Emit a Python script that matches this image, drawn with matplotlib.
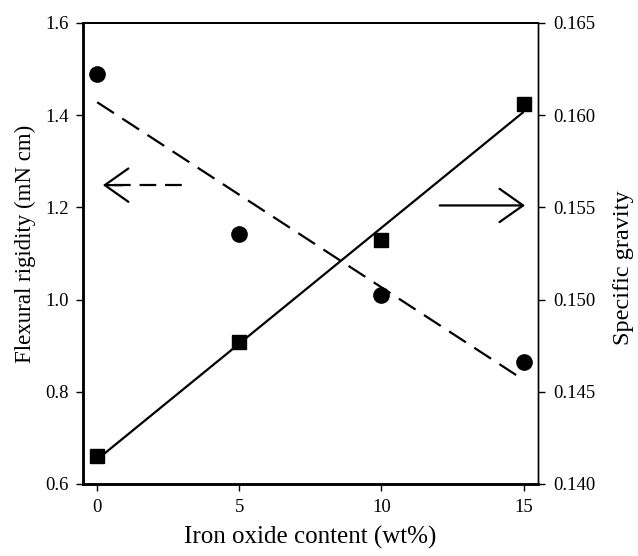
import numpy as np
import matplotlib
matplotlib.use("Agg")
import matplotlib.pyplot as plt

plt.rcParams['font.family'] = ['Liberation Serif', 'DejaVu Serif']

# Iron oxide content (wt%)
iron_oxide = [0, 5, 10, 15]
# Flexural rigidity (mN cm), left axis
flexural_rigidity = [1.49, 1.142, 1.010, 0.865]
# Specific gravity, right axis
specific_gravity = [0.1415, 0.1477, 0.1532, 0.1606]

x_ticks = [0, 5, 10, 15]
left_ticks = [0.6, 0.8, 1.0, 1.2, 1.4, 1.6]
right_ticks = [0.140, 0.145, 0.150, 0.155, 0.160, 0.165]

fig = plt.figure(figsize=(6.38, 5.56), dpi=100)
ax = fig.add_axes([0.130, 0.1295, 0.713, 0.8295])
ax2 = ax.twinx()

xs = np.array(iron_oxide, dtype=float)
xfit = np.array([xs.min(), xs.max()])

# flexural rigidity: circles + dashed linear fit
p1 = np.polyfit(xs, flexural_rigidity, 1)
ax.plot(xfit, np.polyval(p1, xfit), color='black', lw=1.6, dashes=(9, 4.5))
ax.plot(xs, flexural_rigidity, 'o', color='black', ms=11, zorder=5)

# specific gravity: squares + solid linear fit
p2 = np.polyfit(xs, specific_gravity, 1)
ax2.plot(xfit, np.polyval(p2, xfit), color='black', lw=1.6, solid_capstyle='butt')
ax2.plot(xs, specific_gravity, 's', color='black', ms=9.5, zorder=5)

ax.set_xlim(-0.5, 15.5)
ax.set_ylim(0.6, 1.6)
ax2.set_ylim(0.140, 0.165)

ax.set_xticks(x_ticks)
ax.set_xticklabels([str(t) for t in x_ticks])
ax.set_yticks(left_ticks)
ax.set_yticklabels([f"{t:.1f}" for t in left_ticks])
ax2.set_yticks(right_ticks)
ax2.set_yticklabels([f"{t:.3f}" for t in right_ticks])

ax.tick_params(axis='both', direction='out', length=5, width=1, labelsize=13.5, pad=6)
ax.tick_params(axis='y', pad=5)
ax2.tick_params(axis='y', direction='out', length=5, width=1, labelsize=13.5, pad=6)

ax.set_xlabel('Iron oxide content (wt%)', fontsize=18)
ax.xaxis.label.set_va('center')
ax.xaxis.set_label_coords(0.5, -0.115)

ax.set_ylabel('Flexural rigidity (mN cm)', fontsize=16.5)
ax.yaxis.label.set_va('center')
ax.yaxis.set_label_coords(-0.127, 0.52)

ax2.set_ylabel('Specific gravity', fontsize=17.5)
ax2.yaxis.label.set_va('center')
ax2.yaxis.set_label_coords(1.188, 0.47)

for a in (ax, ax2):
    a.spines['left'].set_linewidth(1.8)
    a.spines['bottom'].set_linewidth(1.8)
    a.spines['right'].set_linewidth(1.0)
    a.spines['top'].set_linewidth(1.4)

# arrows pointing to the axis each series belongs to
arrow_style = '->,head_length=1.7,head_width=1.2'
ax.plot([0.6, 3.2], [1.248, 1.248], color='black', lw=1.6, dashes=(7.5, 4))
ax.annotate('', xy=(0.2, 1.248), xytext=(0.9, 1.248),
            arrowprops=dict(arrowstyle=arrow_style,
                            color='black', lw=1.6, shrinkA=0, shrinkB=0))
ax2.annotate('', xy=(15.05, 0.1551), xytext=(12.05, 0.1551),
             arrowprops=dict(arrowstyle=arrow_style,
                             color='black', lw=1.6, shrinkA=0, shrinkB=0))

fig.savefig('out.png', dpi=100)
